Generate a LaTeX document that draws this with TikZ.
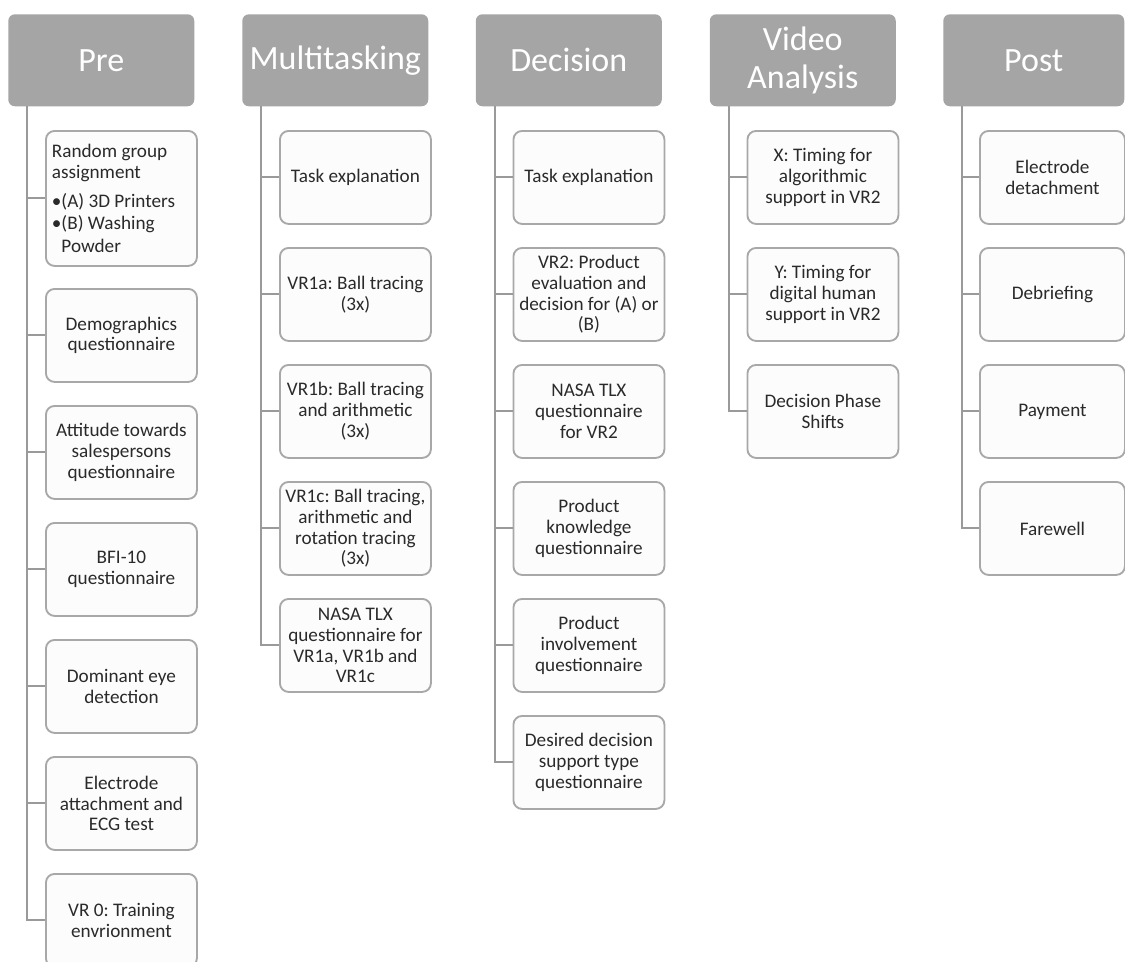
\documentclass[tikz,border=0pt]{standalone}
\usepackage{fontspec}
\setmainfont{Carlito}
\frenchspacing
\definecolor{hdrgray}{HTML}{A5A5A5}
\definecolor{boxgray}{HTML}{A8A8A8}
\definecolor{linegray}{HTML}{9A9A9A}
\definecolor{boxfill}{HTML}{FCFCFC}
\definecolor{txt}{HTML}{2A2A2A}
\begin{document}
\begin{tikzpicture}[x=0.75pt,y=-0.75pt,
  hdr/.style={draw=none, fill=hdrgray, rounded corners=5pt, text=white,
    font=\fontsize{25.5}{28}\selectfont, align=center,
    minimum width=139.5pt, minimum height=69pt, anchor=north west, inner sep=0pt},
  item/.style={draw=boxgray, line width=1.4pt, fill=boxfill, rounded corners=6.5pt, text=txt,
    font=\fontsize{14.4}{15.6}\selectfont, align=center,
    minimum width=113.25pt, minimum height=69.75pt, anchor=north west, inner sep=0pt},
  conn/.style={draw=linegray, line width=1.5pt}]
\useasboundingbox (0,0) rectangle (1125,961);

% ---------- headers ----------
\node[hdr] (pre) at (8,14) {Pre};
\node[hdr] (mul) at (242,14) {Multitasking};
\node[hdr] (dec) at (475.5,14) {Decision};
\node[hdr] (vid) at (709.5,14) {Video\\Analysis};
\node[hdr, minimum width=135.75pt] (post) at (943,14) {Post};

\coordinate (preT) at (27,106);
\coordinate (mulT) at (261,106);
\coordinate (decT) at (494.5,106);
\coordinate (vidT) at (728.5,106);
\coordinate (postT) at (962,106);

% ---------- Pre ----------
\node[item, minimum height=101.25pt, align=flush left, text width=104.25pt, inner xsep=4.5pt] (p1) at (45,130)
  {Random group\\assignment\\[6pt]•(A) 3D Printers\\[1pt]•(B) Washing\\[2pt]\hphantom{•}Powder};
\node[item] (p2) at (45,288) {Demographics\\questionnaire};
\node[item] (p3) at (45,405) {Attitude towards\\salespersons\\questionnaire};
\node[item] (p4) at (45,522) {BFI-10\\questionnaire};
\node[item] (p5) at (45,639) {Dominant eye\\detection};
\node[item] (p6) at (45,756) {Electrode\\attachment and\\ECG test};
\node[item] (p7) at (45,873) {VR 0: Training\\envrionment};

% ---------- Multitasking ----------
\node[item] (m1) at (279,130) {Task explanation};
\node[item] (m2) at (279,247) {VR1a: Ball tracing\\(3x)};
\node[item] (m3) at (279,364) {VR1b: Ball tracing\\and arithmetic\\(3x)};
\node[item] (m4) at (279,481) {VR1c: Ball tracing,\\arithmetic and\\rotation tracing\\(3x)};
\node[item] (m5) at (279,598) {NASA TLX\\questionnaire for\\VR1a, VR1b and\\VR1c};

% ---------- Decision ----------
\node[item] (d1) at (512.5,130) {Task explanation};
\node[item] (d2) at (512.5,247) {VR2: Product\\evaluation and\\decision for (A) or\\(B)};
\node[item] (d3) at (512.5,364) {NASA TLX\\questionnaire\\for VR2};
\node[item] (d4) at (512.5,481) {Product\\knowledge\\questionnaire};
\node[item] (d5) at (512.5,598) {Product\\involvement\\questionnaire};
\node[item] (d6) at (512.5,715) {Desired decision\\support type\\questionnaire};

% ---------- Video Analysis ----------
\node[item] (v1) at (746.5,130) {X: Timing for\\algorithmic\\support in VR2};
\node[item] (v2) at (746.5,247) {Y: Timing for\\digital human\\support in VR2};
\node[item] (v3) at (746.5,364) {Decision Phase\\Shifts};

% ---------- Post ----------
\node[item, minimum width=108.75pt] (q1) at (979,130) {Electrode\\detachment};
\node[item, minimum width=108.75pt] (q2) at (979,247) {Debriefing};
\node[item, minimum width=108.75pt] (q3) at (979,364) {Payment};
\node[item, minimum width=108.75pt] (q4) at (979,481) {Farewell};

% ---------- connectors ----------
\foreach \c in {p1,p2,p3,p4,p5,p6,p7} \draw[conn] (preT) |- (\c.west);
\foreach \c in {m1,m2,m3,m4,m5} \draw[conn] (mulT) |- (\c.west);
\foreach \c in {d1,d2,d3,d4,d5,d6} \draw[conn] (decT) |- (\c.west);
\foreach \c in {v1,v2,v3} \draw[conn] (vidT) |- (\c.west);
\foreach \c in {q1,q2,q3,q4} \draw[conn] (postT) |- (\c.west);
\end{tikzpicture}
\end{document}
